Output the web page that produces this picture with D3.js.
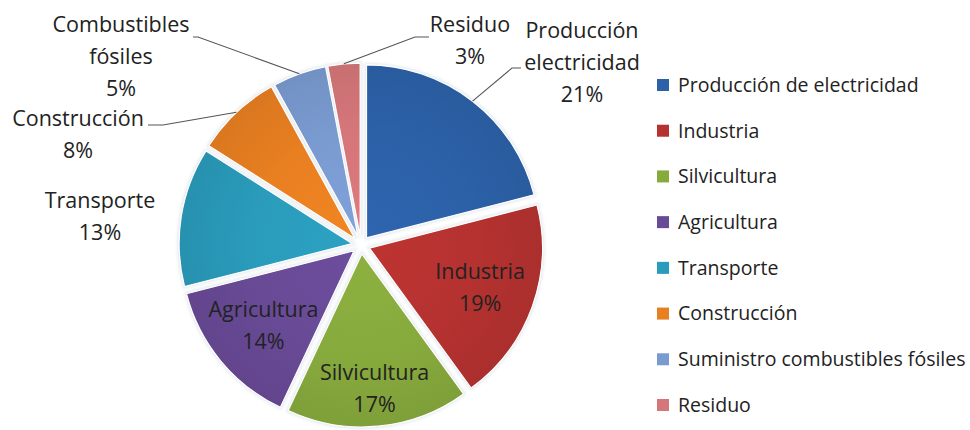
<!DOCTYPE html>
<html>
<head>
<meta charset="utf-8">
<script src="https://cdn.jsdelivr.net/npm/d3@7"></script>
<style>
  html, body { margin: 0; padding: 0; background: #ffffff; }
  svg { display: block; }
  text { font-family: "Open Sans", Lato, sans-serif; fill: #222222; }
</style>
</head>
<body>
<svg id="chart" width="970" height="430"></svg>
<script>
// Emisiones por sector (%)
const categories = [
  "Producción de electricidad",
  "Industria",
  "Silvicultura",
  "Agricultura",
  "Transporte",
  "Construcción",
  "Suministro combustibles fósiles",
  "Residuo"
];
const values = [21, 19, 17, 14, 13, 8, 5, 3];
// Short names used on the slice labels
const sliceNames = [
  ["Producción", "electricidad"],
  ["Industria"],
  ["Silvicultura"],
  ["Agricultura"],
  ["Transporte"],
  ["Construcción"],
  ["Combustibles", "fósiles"],
  ["Residuo"]
];
const colors = ["#2C61A8", "#B53230", "#87AA3D", "#684A96", "#2A9BBB", "#E87F21", "#7A9BD0", "#D5767A"];

const svg = d3.select("#chart");
const cx = 361, cy = 245, R = 173, explode = 9;

const pie = d3.pie().sort(null).value(d => d.value).startAngle(0).endAngle(2 * Math.PI);
const data = categories.map((c, i) => ({ name: c, value: values[i], short: sliceNames[i], color: colors[i] }));
const arcs = pie(data);
const arc = d3.arc().innerRadius(0).outerRadius(R);
const total = d3.sum(values);

// gradients: a touch lighter towards the middle of each slice, darker at the rim
const defs = svg.append("defs");
arcs.forEach((a, i) => {
  const g = defs.append("radialGradient")
    .attr("id", "grad" + i)
    .attr("gradientUnits", "userSpaceOnUse")
    .attr("cx", 0).attr("cy", 0).attr("r", R)
    .attr("fx", 0).attr("fy", 0);
  const base = d3.color(a.data.color);
  g.append("stop").attr("offset", "0%").attr("stop-color", base.brighter(0.12));
  g.append("stop").attr("offset", "60%").attr("stop-color", base);
  g.append("stop").attr("offset", "100%").attr("stop-color", base.darker(0.18));
});
const blur = defs.append("filter").attr("id", "soft").attr("x", "-10%").attr("y", "-10%").attr("width", "120%").attr("height", "120%");
blur.append("feGaussianBlur").attr("stdDeviation", 1.6);

const mid = a => (a.startAngle + a.endAngle) / 2;
const offsetOf = a => [explode * Math.sin(mid(a)), -explode * Math.cos(mid(a))];

const root = svg.append("g").attr("transform", `translate(${cx},${cy})`);

// soft halo under the slices
root.append("g").selectAll("path").data(arcs).join("path")
  .attr("transform", a => `translate(${offsetOf(a)})`)
  .attr("d", arc)
  .attr("fill", "none")
  .attr("stroke", "#e6ebef")
  .attr("stroke-width", 4)
  .attr("filter", "url(#soft)");

root.append("g").selectAll("path").data(arcs).join("path")
  .attr("transform", a => `translate(${offsetOf(a)})`)
  .attr("d", arc)
  .attr("fill", (a, i) => `url(#grad${i})`)
  .attr("stroke", "#ffffff")
  .attr("stroke-width", 1.2)
  .attr("stroke-linejoin", "round");

// label placement: inside slices use a radius factor, outside ones a fixed anchor and leader line
const inside = { "Industria": 0.68, "Silvicultura": 0.78, "Agricultura": 0.68 };
const outside = {
  "Producción de electricidad": { x: 582, y: 30, elbow: [[512, 68], [521, 68]] },
  "Residuo": { x: 470, y: 24, elbow: [[415, 37], [429, 37]] },
  "Suministro combustibles fósiles": { x: 121, y: 24, elbow: [[198, 37], [193, 37]] },
  "Construcción": { x: 78, y: 118, elbow: [[163, 125], [148, 125]] },
  "Transporte": { x: 100, y: 200, elbow: null }
};
const lineGap = 32;
const labelSize = 21.5;

const labels = svg.append("g");
arcs.forEach(a => {
  const lines = a.data.short.concat([Math.round(a.data.value / total * 100) + "%"]);
  let x, y0;
  if (inside[a.data.name] !== undefined) {
    const [ox, oy] = offsetOf(a);
    const r = R * inside[a.data.name];
    x = cx + ox + r * Math.sin(mid(a));
    const yc = cy + oy - r * Math.cos(mid(a));
    y0 = yc - (lines.length - 1) * lineGap / 2;
  } else {
    const o = outside[a.data.name];
    x = o.x; y0 = o.y;
    if (o.elbow) {
      const [ox, oy] = offsetOf(a);
      const p0 = [cx + ox + R * Math.sin(mid(a)), cy + oy - R * Math.cos(mid(a))];
      labels.append("path")
        .attr("d", d3.line()([p0].concat(o.elbow)))
        .attr("fill", "none")
        .attr("stroke", "#555")
        .attr("stroke-width", 1.1);
    }
  }
  const t = labels.append("text")
    .attr("text-anchor", "middle")
    .attr("font-size", labelSize);
  lines.forEach((s, k) => {
    t.append("tspan").attr("x", x).attr("y", y0 + k * lineGap).attr("dy", "0.35em").text(s);
  });
});

// legend
const legend = svg.append("g").attr("transform", "translate(657,85)");
const rowY = d3.scalePoint().domain(categories).range([0, 320]);
const item = legend.selectAll("g").data(data).join("g")
  .attr("transform", d => `translate(0,${rowY(d.name)})`);
item.append("rect")
  .attr("x", 0).attr("y", -6).attr("width", 12).attr("height", 12)
  .attr("fill", d => d.color);
item.append("text")
  .attr("x", 21).attr("y", 0).attr("dy", "0.35em")
  .attr("font-size", 19.5)
  .text(d => d.name);
</script>
</body>
</html>
